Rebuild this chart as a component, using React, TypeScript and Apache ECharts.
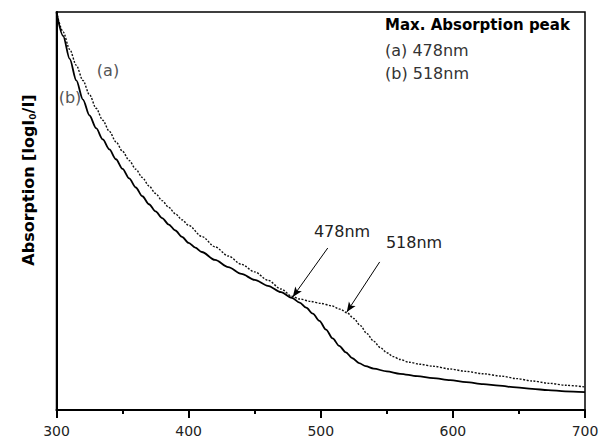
import React, { useEffect, useRef } from "react";
import * as echarts from "echarts";

const xTicks = [300, 400, 500, 600, 700];

// curve (b): solid line [wavelength nm, relative absorption]
const curveB: [number, number][] = [
  [300, 100], [305, 94.0], [310, 88.2], [315, 82.8], [320, 78.0], [325, 74.0],
  [330, 70.8], [335, 68.0], [340, 65.5], [345, 63.0], [350, 60.6], [355, 58.2],
  [360, 55.9], [365, 53.7], [370, 51.7], [375, 49.9], [380, 48.2], [385, 46.6],
  [390, 45.1], [395, 43.5], [400, 42.0], [405, 40.8], [410, 39.7], [420, 37.7],
  [430, 35.9], [440, 34.2], [450, 32.7], [460, 31.2], [470, 29.6], [478, 28.2],
  [484, 27.0], [489, 25.7], [494, 24.2], [499, 22.4], [504, 20.2], [509, 18.0],
  [514, 16.1], [519, 14.5], [524, 13.0], [529, 11.8], [534, 11.0], [540, 10.4],
  [550, 9.7], [560, 9.1], [573, 8.5], [585, 8.0], [598, 7.5], [610, 7.0],
  [623, 6.5], [635, 6.1], [648, 5.7], [660, 5.3], [672, 5.0], [685, 4.7], [700, 4.5],
];

// curve (a): dotted line
const curveA: [number, number][] = [
  [300, 100], [305, 95.0], [310, 90.6], [315, 86.6], [320, 82.8], [325, 79.2],
  [330, 75.8], [335, 72.8], [340, 70.0], [345, 67.4], [350, 65.0], [355, 62.7],
  [360, 60.5], [365, 58.4], [370, 56.3], [375, 54.4], [380, 52.6], [385, 50.9],
  [390, 49.3], [395, 47.8], [400, 46.4], [410, 43.6], [420, 41.0], [430, 38.7],
  [440, 36.6], [450, 34.7], [460, 32.6], [470, 30.4], [478, 28.6], [484, 27.9],
  [492, 27.3], [500, 26.8], [508, 26.2], [515, 25.3], [520, 24.4], [525, 23.0],
  [530, 21.2], [535, 19.2], [540, 17.3], [545, 15.7], [550, 14.4], [555, 13.4],
  [560, 12.7], [567, 12.0], [575, 11.5], [585, 11.0], [598, 10.3], [610, 9.7],
  [623, 9.1], [637, 8.5], [648, 7.9], [660, 7.3], [673, 6.7], [686, 6.2], [700, 5.8],
];

// annotation arrows: [from, to]
const arrow478: [[number, number], [number, number]] = [[505.3, 40.7], [478.8, 28.4]];
const arrow518: [[number, number], [number, number]] = [[544.6, 37.2], [519.7, 24.6]];

const legendTitle = "Max. Absorption peak";
const legendLines = ["(a) 478nm", "(b) 518nm"];

export default function App() {
  const ref = useRef<HTMLDivElement>(null);
  useEffect(() => {
    if (!ref.current) return;
    const chart = echarts.init(ref.current, undefined, { renderer: "svg" });
    const wide = "DejaVu Sans, Verdana, sans-serif";
    chart.setOption({
      animation: false,
      backgroundColor: "#fff",
      grid: {
        left: 56.5,
        right: 20,
        top: 12,
        bottom: 29,
        show: true,
        borderColor: "#000",
        borderWidth: 1.5,
        containLabel: false,
      },
      xAxis: {
        type: "value",
        min: 300,
        max: 700,
        interval: 100,
        axisLine: { show: true, lineStyle: { color: "#000", width: 2 } },
        axisTick: { show: true, length: 8, lineStyle: { color: "#000", width: 2 } },
        minorTick: { show: true, splitNumber: 2, length: 4, lineStyle: { color: "#000", width: 2 } },
        splitLine: { show: false },
        axisLabel: {
          margin: 14,
          fontSize: 14,
          color: "#222",
          fontFamily: wide,
          formatter: (v: number) => (xTicks.includes(v) ? String(v) : ""),
        },
      },
      yAxis: {
        type: "value",
        min: 0,
        max: 100,
        axisLine: { show: true, lineStyle: { color: "#000", width: 2 } },
        axisTick: { show: false },
        axisLabel: { show: false },
        splitLine: { show: false },
      },
      series: [
        {
          type: "line",
          name: "(a)",
          data: curveA,
          showSymbol: false,
          smooth: 0.3,
          smoothMonotone: "x",
          lineStyle: { color: "#111", width: 1.4, type: [2, 1.5] },
          z: 2,
          markLine: {
            silent: true,
            symbol: ["none", "arrow"],
            symbolSize: [6, 10],
            label: { show: false },
            lineStyle: { color: "#000", width: 1, type: "solid" },
            data: [
              [{ coord: arrow478[0] }, { coord: arrow478[1] }],
              [{ coord: arrow518[0] }, { coord: arrow518[1] }],
            ],
          },
        },
        {
          type: "line",
          name: "(b)",
          data: curveB,
          showSymbol: false,
          smooth: 0.3,
          smoothMonotone: "x",
          lineStyle: { color: "#000", width: 1.8 },
          z: 3,
        },
      ],
      graphic: [
        {
          type: "text",
          x: 28,
          y: 180,
          rotation: Math.PI / 2,
          style: {
            text: "Absorption [logI{sub|0}/I]",
            fontFamily: wide,
            fontWeight: "bold",
            fontSize: 16,
            fill: "#000",
            align: "center",
            verticalAlign: "middle",
            rich: {
              sub: {
                fontSize: 9,
                fontWeight: "bold",
                fontFamily: wide,
                verticalAlign: "bottom",
                padding: [9, 0, 0, 0],
              },
            },
          },
        },
        {
          type: "text",
          x: 385,
          y: 25,
          style: {
            text: legendTitle,
            fontFamily: wide,
            fontWeight: "bold",
            fontSize: 15,
            fill: "#000",
            align: "left",
            verticalAlign: "middle",
          },
        },
        ...legendLines.map((t, i) => ({
          type: "text",
          x: 385,
          y: 50 + i * 23,
          style: {
            text: t,
            fontFamily: wide,
            fontSize: 16,
            fill: "#333",
            align: "left",
            verticalAlign: "middle",
          },
        })),
        {
          type: "text",
          x: 108,
          y: 70,
          style: { text: "(a)", fontFamily: wide, fontSize: 16, fill: "#555", align: "center", verticalAlign: "middle" },
        },
        {
          type: "text",
          x: 70,
          y: 97,
          style: { text: "(b)", fontFamily: wide, fontSize: 16, fill: "#555", align: "center", verticalAlign: "middle" },
        },
        {
          type: "text",
          x: 342,
          y: 231,
          style: { text: "478nm", fontFamily: wide, fontSize: 16, fill: "#222", align: "center", verticalAlign: "middle" },
        },
        {
          type: "text",
          x: 414,
          y: 242,
          style: { text: "518nm", fontFamily: wide, fontSize: 16, fill: "#222", align: "center", verticalAlign: "middle" },
        },
      ],
    });
    return () => chart.dispose();
  }, []);
  return <div ref={ref} style={{ width: 605, height: 439, position: "absolute", left: 0, top: 0 }} />;
}
